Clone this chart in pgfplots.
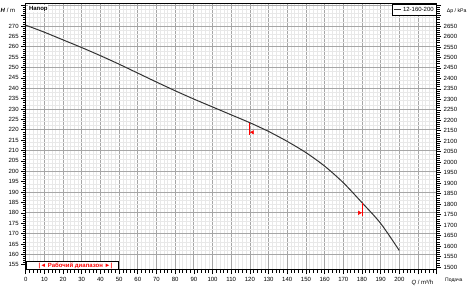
\documentclass[border=0pt]{standalone}
\usepackage{pgfplots}
\pgfplotsset{compat=1.18}
\usepackage{fontspec}
\setmainfont{Liberation Sans}
\newcommand{\sm}{\fontsize{6}{7}\selectfont}
\begin{document}
\begin{tikzpicture}
\pgfplotsset{every axis/.append style={scale only axis, width=411pt, height=266pt, xmin=0, xmax=220,
  /pgf/number format/assume math mode=true, tick label style={font=\sm}}}
% grid layer
\begin{axis}[ymin=152.45, ymax=280.6,
  axis line style={draw=none},
  xtick={0,10,...,220}, ytick={160,170,...,280},
  minor x tick num=4, minor y tick num=4,
  xticklabels={}, yticklabels={},
  major tick length=0pt, minor tick length=0pt,
  grid=both,
  major grid style={color=black!35, line width=0.7pt},
  minor grid style={color=black!9, line width=0.45pt}]
\end{axis}
% data layer, left and bottom axes
\begin{axis}[ymin=152.45, ymax=280.6, clip=false,
  axis line style={line width=1pt},
  xtick pos=left, ytick pos=left, tick align=outside,
  major tick length=4.5pt, minor tick length=2.8pt,
  tick style={black, line width=0.6pt},
  xtick={0,10,...,220},
  xticklabels={0,10,20,30,40,50,60,70,80,90,100,110,120,130,140,150,160,170,180,190,200,{},{}},
  minor x tick num=4,
  ytick={155,160,...,280},
  yticklabels={155,160,165,170,175,180,185,190,195,200,205,210,215,220,225,230,235,240,245,250,255,260,265,270,{},{}},
  minor y tick num=4,
  xticklabel style={yshift=1pt},
  yticklabel style={xshift=1pt},
  legend style={at={(rel axis cs:1,1)}, anchor=north east, draw=black, line width=0.8pt,
    font=\sm, inner sep=0.6pt, row sep=-1pt},
  legend cell align=left,
  legend image code/.code={\draw[#1, line width=0.8pt] (0pt,0pt) -- (7pt,0pt);}]
\addplot[color=black!80, line width=1pt, smooth] coordinates {
(0,270.4) (10,267.0) (20,263.3) (30,259.6) (40,255.7) (50,251.6) (60,247.3) (70,243.0)
(80,238.8) (90,234.8) (100,231.0) (110,227.2) (120,223.4) (130,219.2) (140,214.4)
(150,209.0) (160,202.5) (170,194.5) (180,184.9) (190,174.9) (200,161.8)};
\addlegendentry{12-160-200}
\addplot[red, line width=0.8pt, forget plot] coordinates {(120,223.4) (120,217.5)};
\addplot[red, only marks, mark=triangle*, mark size=2pt, mark options={rotate=90, fill=red}, forget plot] coordinates {(121.4,218.8)};
\addplot[red, line width=0.8pt, forget plot] coordinates {(180,184.9) (180,178.5)};
\addplot[red, only marks, mark=triangle*, mark size=2pt, mark options={rotate=-90, fill=red}, forget plot] coordinates {(178.6,180.0)};
\coordinate (BL) at (rel axis cs:0,0);
\coordinate (TR) at (rel axis cs:1,1);
\node[font=\sm, anchor=east] at ([xshift=-7pt, yshift=-6.8pt]rel axis cs:0,1) {\textbf{\textit{H}} / m};
\node[font=\fontsize{5.2}{6}\selectfont, anchor=west, inner sep=0pt] at ([xshift=10pt, yshift=-7pt]rel axis cs:1,1) {Δp / kPa};
\node[font=\sm\bfseries, anchor=north west, fill=white, inner sep=0.6pt] at ([xshift=2.5pt, yshift=-1.3pt]rel axis cs:0,1) {Напор};
\node[font=\sm, anchor=east] at ([xshift=0pt, yshift=-12.8pt]rel axis cs:1,0) {\textit{Q} / m³/h};
\node[font=\fontsize{5}{6}\selectfont, anchor=west] at ([xshift=5pt, yshift=-10pt]rel axis cs:1,0) {Подача};
\node[font=\sm\bfseries, text=red, anchor=south west, draw=black, line width=0.8pt, fill=white, minimum width=92.6pt, minimum height=8pt, inner sep=0pt] at (rel axis cs:0,0) {\hspace*{6pt}|◄ Рабочий диапазон ►|};
\end{axis}
% right axis
\begin{axis}[ymin=1485.7, ymax=2755,
  axis x line=none, axis y line*=right,
  axis line style={line width=1pt},
  tick align=outside,
  major tick length=4.5pt, minor tick length=2.8pt,
  tick style={black, line width=0.6pt},
  ytick={1500,1550,...,2750},
  yticklabels={1500,1550,1600,1650,1700,1750,1800,1850,1900,1950,2000,2050,2100,2150,2200,2250,2300,2350,2400,2450,2500,2550,2600,2650,{},{}},
  minor y tick num=4,
  yticklabel style={xshift=-1pt}]
\end{axis}
\pgfresetboundingbox
\path ([xshift=-25.7pt, yshift=-24pt]BL) rectangle ([xshift=34.3pt, yshift=4pt]TR);
\end{tikzpicture}
\end{document}
